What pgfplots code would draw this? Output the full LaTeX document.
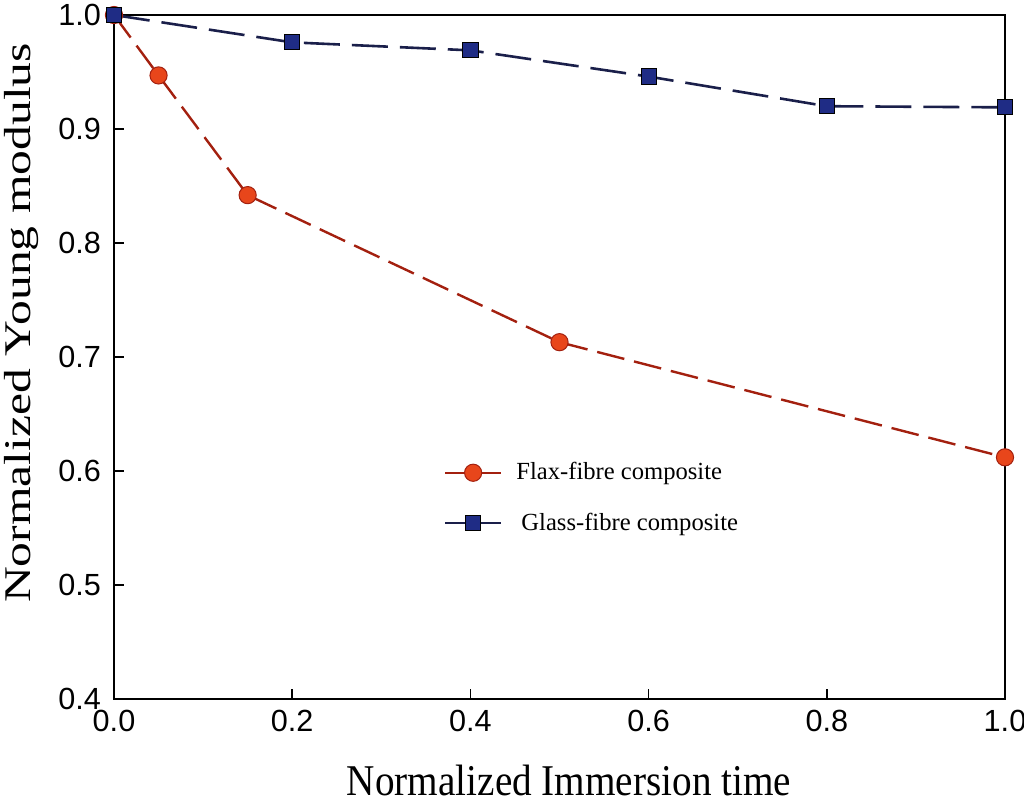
\documentclass[border=0pt]{standalone}
\usepackage{fontspec}
\setmainfont{Liberation Serif}
\newfontfamily\arial{Liberation Sans}
\usepackage{graphicx}
\usepackage{pgfplots}
\pgfplotsset{compat=1.18}
\definecolor{flaxline}{HTML}{A3200F}
\definecolor{flaxfill}{HTML}{E8461B}
\definecolor{glassline}{HTML}{1A1F4A}
\definecolor{glassfill}{HTML}{1F2C85}
\begin{document}
\begin{tikzpicture}
\begin{axis}[
  name=ax,
  scale only axis,
  width=445.5pt, height=342pt,
  xmin=0, xmax=1, ymin=0.4, ymax=1.0,
  xtick={0,0.2,0.4,0.6,0.8,1.0},
  ytick={0.4,0.5,0.6,0.7,0.8,0.9,1.0},
  tick pos=left,
  tick align=inside,
  major tick length=5pt,
  axis line style={line width=0.9pt},
  every tick/.style={line width=0.8pt, black},
  /pgf/number format/.cd, fixed, fixed zerofill, precision=1, assume math mode=true,
  /pgfplots/.cd,
  ticklabel style={font=\arial\fontsize{15.3}{15.3}\selectfont},
  xticklabel style={yshift=-2pt},
  yticklabel style={xshift=-3pt},
  xlabel={\scalebox{1}[1.12]{Normalized Immersion time}},
  ylabel={\scalebox{1}[0.76]{Normalized Young modulus}},
  xlabel style={font=\fontsize{19.6}{22}\selectfont, at={(axis description cs:0.5107,-0.1418)}, anchor=base, inner sep=0pt},
  ylabel style={font=\fontsize{24.8}{26}\selectfont, at={(axis description cs:-0.0935,0.5497)}, anchor=base, inner sep=0pt},
  clip=false,
  legend style={draw=none, fill=none, at={(0.363,0.294)}, anchor=west,
    font=\fontsize{12.3}{14}\selectfont, row sep=11pt, cells={anchor=west}},
  legend image code/.code={\draw[mark repeat=2,mark phase=2,#1,solid] plot coordinates {(0pt,0pt) (14pt,0pt) (28pt,0pt)};},
]
\addplot[color=flaxline, line width=1.2pt, dash pattern=on 14pt off 5pt,
  mark=*, mark size=4.3pt, mark options={solid, fill=flaxfill, draw=flaxline, line width=0.5pt}]
  coordinates {(0,1.0) (0.05,0.947) (0.15,0.842) (0.5,0.713) (1.0,0.612)};
\addlegendentry{\hspace{5pt}Flax-fibre composite}
\addplot[color=glassline, line width=1.3pt, dash pattern=on 18pt off 6pt,
  mark=square*, mark size=3.8pt, mark options={solid, fill=glassfill, draw=black, line width=0.5pt}]
  coordinates {(0,1.0) (0.2,0.976) (0.4,0.969) (0.6,0.946) (0.8,0.920) (1.0,0.919)};
\addlegendentry{\hspace{7.5pt}Glass-fibre composite}
\end{axis}
\pgfresetboundingbox
\path[use as bounding box] ([shift={(-57pt,-53pt)}]ax.south west) rectangle ++(512pt,402.5pt);
\end{tikzpicture}
\end{document}
